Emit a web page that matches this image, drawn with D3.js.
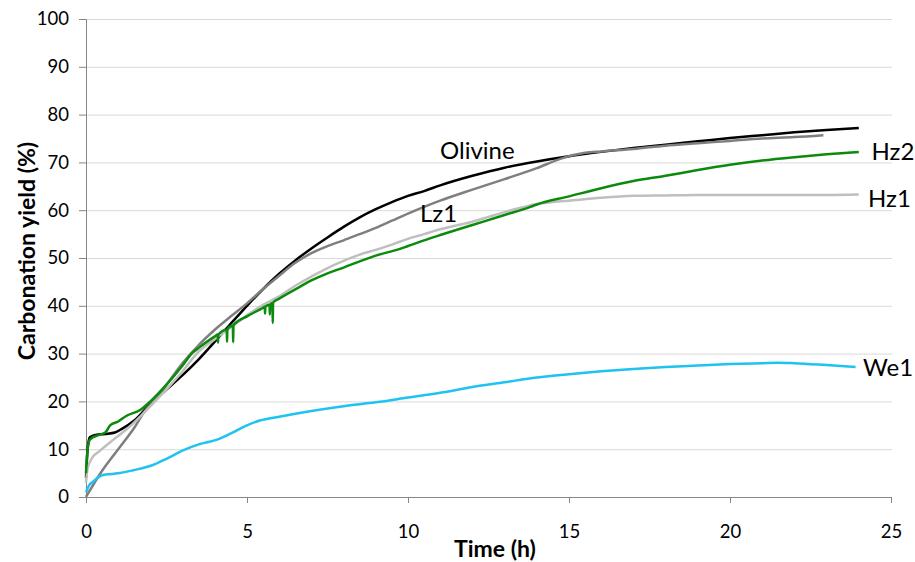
<!DOCTYPE html>
<html>
<head>
<meta charset="utf-8">
<script src="https://cdn.jsdelivr.net/npm/d3@7"></script>
<style>
  body { margin: 0; background: #fff; }
  text { font-family: Lato, "Open Sans", sans-serif; fill: #000; }
</style>
</head>
<body>
<div id="chart"></div>
<script>
// Carbonation yield (%) vs time (h)
const xTicks = [0, 5, 10, 15, 20, 25];
const yTicks = [0, 10, 20, 30, 40, 50, 60, 70, 80, 90, 100];

const olivine = [[0,4],[0.05,10],[0.12,12.5],[0.3,13],[0.6,13.2],[0.9,13.5],[1.1,14.2],[1.5,16],[2,19.5],
  [2.5,22.5],[3,25.5],[3.5,28.8],[4,32.5],[4.5,36.3],[5,40],[5.5,43.5],[6,46.7],[6.5,49.5],[7,52],[7.5,54.3],
  [8,56.5],[8.5,58.5],[9,60.2],[9.5,61.7],[10,63],[10.5,64],[11,65.2],[12,67.2],[13,68.9],[14,70.2],[15,71.3],
  [16,72.2],[17,73],[18,73.7],[19,74.4],[20,75.1],[21,75.7],[22,76.3],[23,76.8],[24,77.2]];

const lz1 = [[0,0],[0.5,5.5],[1,10],[1.5,14.5],[1.83,18],[2,19.3],[2.5,23.5],[3,28],[3.5,31.8],[4,35],
  [4.5,37.8],[5,40.5],[5.5,43.5],[6,46.3],[6.5,49],[7,51],[7.5,52.5],[8,53.7],[8.5,55],[9,56.3],[9.5,57.8],
  [10,59.3],[10.5,60.7],[11,62],[12,64.3],[13,66.5],[14,68.8],[14.8,70.9],[15.5,72],[16,72.3],[17,72.8],
  [18,73.5],[19,74],[20,74.5],[21,75],[22,75.3],[22.9,75.7]];

const hz1 = [[0,3],[0.05,6],[0.2,8.3],[0.4,9.5],[0.85,12],[1.37,14.8],[2,19],[2.5,22.5],[3,26.3],[3.44,30],
  [4,33],[4.5,35.5],[5,38],[5.5,40.2],[6,42],[6.5,44.2],[7,46.1],[7.5,47.9],[8,49.4],[8.5,50.7],[9,51.7],
  [9.5,52.8],[10,54],[10.5,55],[11,56],[11.5,56.8],[12,57.6],[12.5,58.6],[13,59.6],[13.5,60.5],[14,61.3],
  [14.5,61.7],[15,62],[16,62.6],[17,63],[18,63.1],[19,63.2],[20,63.2],[21,63.2],[22,63.2],[23,63.2],[24,63.3]];

const hz2 = [[0,5],[0.05,10],[0.12,12],[0.4,13],[0.6,13.5],[0.75,15],[1,15.8],[1.26,17],[1.68,18.2],[2,20],
  [2.5,23.5],[3,27.5],[3.28,30],[3.5,31.2],[4,33.6],[4.09,34],[4.1,32.3],[4.11,34],[4.37,35],[4.38,32.5],
  [4.39,35.1],[4.56,35.9],[4.57,32.4],[4.58,36],[5,37.8],[5.5,39.6],[5.55,39.8],[5.56,38.4],[5.57,39.8],
  [5.7,40.2],[5.71,38.2],[5.72,40.3],[5.79,40.6],[5.8,36.4],[5.81,40.7],[6,41.5],[6.65,44],[7,45.3],
  [7.5,46.8],[8,48],[8.5,49.3],[9,50.5],[9.75,51.9],[10,52.5],[10.68,54.1],[11,54.8],[12,56.9],[13,59],
  [13.8,60.7],[14,61.2],[15,62.9],[16,64.6],[17,66.1],[18,67.2],[19,68.4],[20,69.5],[21,70.4],[22,71.1],
  [23,71.7],[24,72.2]];

const we1 = [[0,1],[0.1,2.5],[0.22,3.2],[0.4,4.2],[0.53,4.6],[0.8,4.8],[1.05,5],[1.47,5.6],[2.08,6.7],
  [2.5,8],[3.03,9.8],[3.5,11],[4.07,12],[4.5,13.3],[5,15],[5.4,16],[6,16.8],[7,18],[8,19],[9,19.8],
  [10,20.8],[11,21.8],[12,23],[13,24],[14,25],[15,25.7],[16,26.3],[17,26.8],[18,27.2],[19,27.5],[20,27.8],
  [21,28],[21.5,28.1],[22,28],[23,27.6],[23.9,27.2]];

const seriesNames = ["Olivine", "Lz1", "Hz1", "Hz2", "We1"];
const seriesData = [olivine, lz1, hz1, hz2, we1];
const seriesColors = ["#000000", "#7f7f7f", "#bfbfbf", "#0b8a0b", "#1ec3f0"];

const width = 915, height = 562;
const margin = { left: 86, right: 24, top: 19, bottom: 65 };

const svg = d3.select("#chart").append("svg")
  .attr("width", width)
  .attr("height", height);

const x = d3.scaleLinear().domain([0, 25]).range([margin.left, width - margin.right]);
const y = d3.scaleLinear().domain([0, 100]).range([height - margin.bottom, margin.top]);

// gridlines
svg.append("g")
  .attr("transform", `translate(${margin.left},0)`)
  .call(d3.axisLeft(y).tickValues(yTicks.slice(1)).tickSize(-(width - margin.right - margin.left + 1)).tickFormat(""))
  .call(g => g.select(".domain").remove())
  .call(g => g.selectAll("line").attr("stroke", "#d9d9d9"));

// y axis
svg.append("g")
  .attr("transform", `translate(${margin.left},0)`)
  .call(d3.axisLeft(y).tickValues(yTicks).tickSize(7).tickPadding(10))
  .call(g => g.select(".domain").attr("stroke", "#868686"))
  .call(g => g.selectAll("line").attr("stroke", "#868686"))
  .call(g => g.selectAll("text").attr("font-size", 18.5).attr("font-family", "Lato"));

// x axis
svg.append("g")
  .attr("transform", `translate(0,${y(0)})`)
  .call(d3.axisBottom(x).tickValues(xTicks).tickSize(6).tickPadding(22))
  .call(g => g.select(".domain").attr("stroke", "#868686"))
  .call(g => g.selectAll("line").attr("stroke", "#868686"))
  .call(g => g.selectAll("text").attr("font-size", 18.5).attr("font-family", "Lato"));

// lines
const line = d3.line().curve(d3.curveMonotoneX).x(d => x(d[0])).y(d => y(d[1]));

svg.selectAll(".series")
  .data(seriesData)
  .enter().append("path")
  .attr("class", "series")
  .attr("d", line)
  .attr("fill", "none")
  .attr("stroke", (d, i) => seriesColors[i])
  .attr("stroke-width", 2.5)
  .attr("stroke-linejoin", "round");

// series labels (placed like the original)
const labelPos = [[440, 159], [420, 221.5], [868, 206.5], [871.5, 159.5], [863, 375.5]];
svg.selectAll(".lbl")
  .data(seriesNames)
  .enter().append("text")
  .attr("class", "lbl")
  .attr("x", (d, i) => labelPos[i][0])
  .attr("y", (d, i) => labelPos[i][1])
  .attr("font-size", 24)
  .text(d => d);

// axis titles
svg.append("text")
  .attr("x", 495)
  .attr("y", 557)
  .attr("text-anchor", "middle")
  .attr("font-size", 23)
  .attr("font-weight", "bold")
  .text("Time (h)");

svg.append("text")
  .attr("transform", "translate(35,251) rotate(-90)")
  .attr("text-anchor", "middle")
  .attr("font-size", 23)
  .attr("font-weight", "bold")
  .text("Carbonation yield (%)");
</script>
</body>
</html>
